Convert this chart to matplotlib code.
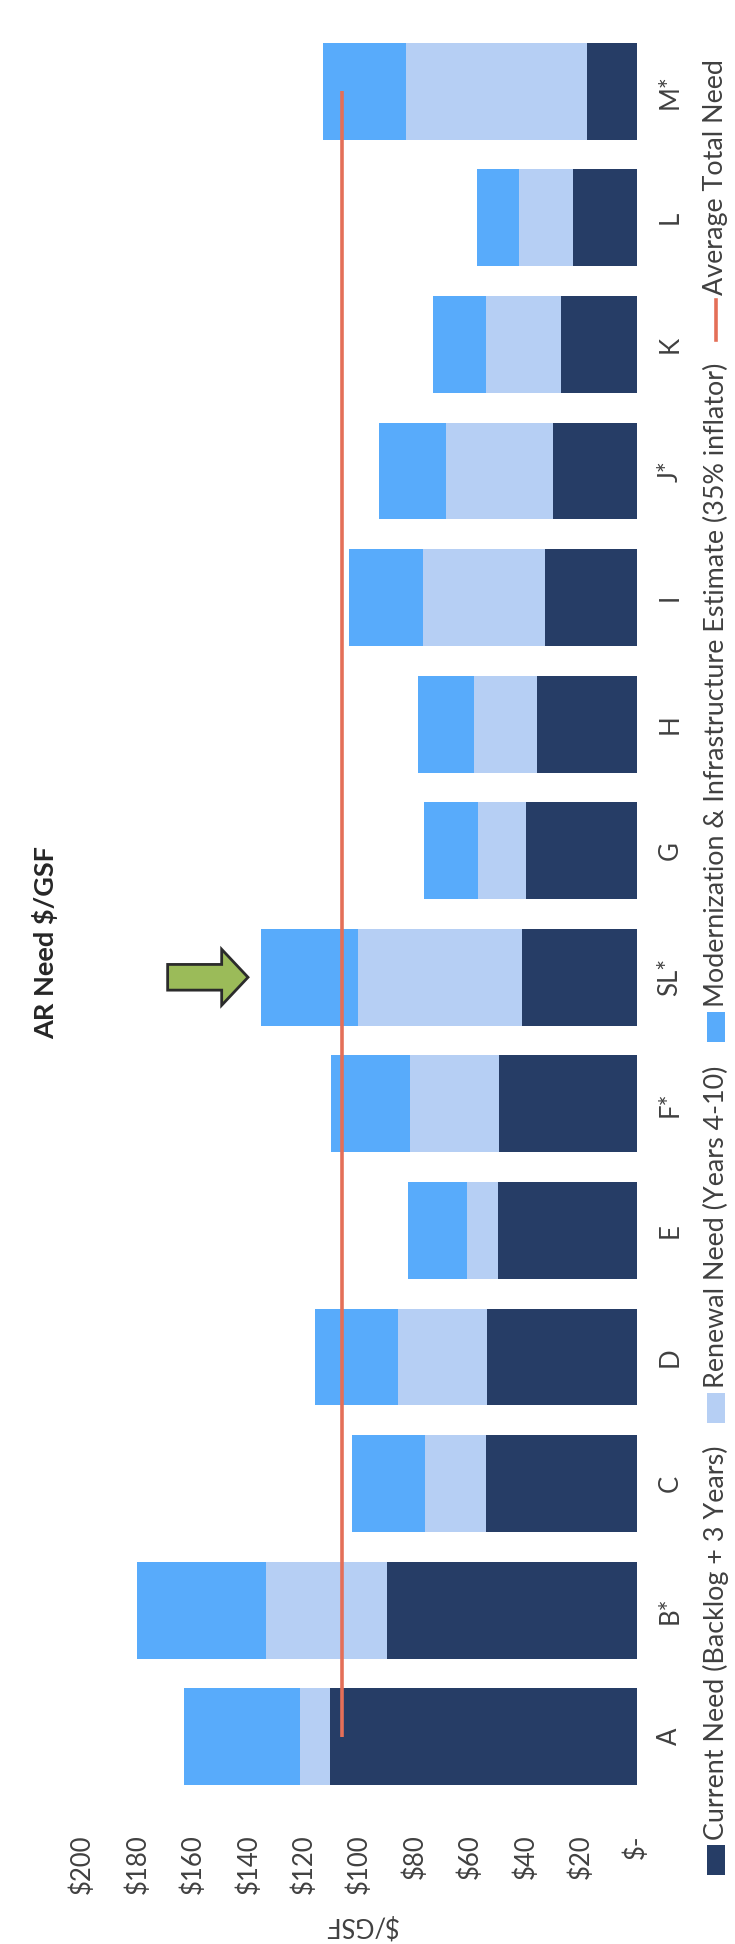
import matplotlib
matplotlib.use("Agg")
import matplotlib.pyplot as plt
import numpy as np
from matplotlib.patches import Rectangle, Polygon
from matplotlib.lines import Line2D

# ---------------- data ----------------
categories = ["A", "B*", "C", "D", "E", "F*", "SL*", "G", "H", "I", "J*", "K", "L", "M*"]
current_need = [110.6, 89.9, 54.3, 53.8, 49.9, 49.5, 41.4, 39.9, 36.0, 33.0, 30.0, 27.2, 23.0, 17.8]
renewal_need = [10.8, 43.8, 22.0, 32.2, 11.4, 32.2, 59.0, 17.2, 22.5, 43.9, 38.9, 27.1, 19.3, 65.5]
modernization = [41.9, 46.5, 26.5, 30.0, 21.3, 28.7, 35.1, 19.6, 20.2, 26.7, 24.0, 19.0, 15.4, 29.9]
value_ticks = [0, 20, 40, 60, 80, 100, 120, 140, 160, 180, 200]
value_tick_labels = ["$-", "$20", "$40", "$60", "$80", "$100", "$120", "$140", "$160", "$180", "$200"]
series_names = ["Current Need (Backlog + 3 Years)",
                "Renewal Need (Years 4-10)",
                "Modernization & Infrastructure Estimate (35% inflator)",
                "Average Total Need"]
highlight = "SL*"
title = "AR Need $/GSF"
axis_label = "$/GSF"

# ---------------- style ----------------
NAVY = "#263d66"
LIGHT = "#b6cff4"
MED = "#58abfb"
RED = "#e46f58"
GREEN = "#9bbb59"
TEXT = "#404040"

plt.rcParams['font.family'] = ['Lato', 'DejaVu Sans']

W, H = 735, 1944
fig = plt.figure(figsize=(W / 100, H / 100), dpi=100)
fig.patch.set_facecolor("white")


def fx(px):
    return px / W


def fy(py):
    return 1 - py / H


ax_left, ax_right, ax_top, ax_bottom = 82.3, 636.5, 28, 1800
ax = fig.add_axes([fx(ax_left), fy(ax_bottom), (ax_right - ax_left) / W, (ax_bottom - ax_top) / H])

cur = np.array(current_need)
ren = np.array(renewal_need)
mod = np.array(modernization)
pos = np.arange(len(categories))
bh = 0.766

ax.barh(pos, cur, height=bh, color=NAVY, zorder=2)
ax.barh(pos, ren, left=cur, height=bh, color=LIGHT, zorder=2)
ax.barh(pos, mod, left=cur + ren, height=bh, color=MED, zorder=2)

totals = cur + ren + mod
avg = totals.mean()
ax.plot(np.full(len(pos), avg), pos, color=RED, lw=2.6, solid_capstyle='butt', zorder=5)

ax.set_xlim(200, 0)
ax.set_ylim(-0.5, len(categories) - 0.5)
for s in ax.spines.values():
    s.set_visible(False)

ax.set_xticks(value_ticks)
ax.set_xticklabels(value_tick_labels, rotation=90, ha='center', va='top', fontsize=18.5, color=TEXT)
ax.tick_params(axis='x', length=0, pad=25)

ax.yaxis.tick_right()
ax.set_yticks(pos)
ax.set_yticklabels(categories, rotation=90, ha='center', va='center', fontsize=18.5, color=TEXT)
ax.tick_params(axis='y', length=0, pad=24)

# highlight arrow pointing at the highlighted bar
i = categories.index(highlight)
tip = totals[i] + 4.7
head_base = tip + 9.5
tail = tip + 29
b, hh = 0.1015, 0.221
arrow_pts = [(tail, i - b), (head_base, i - b), (head_base, i - hh), (tip, i),
             (head_base, i + hh), (head_base, i + b), (tail, i + b)]
ax.add_patch(Polygon(arrow_pts, closed=True, facecolor=GREEN, edgecolor="#2b2b2b",
                     lw=2, zorder=6, clip_on=False, joinstyle='miter'))

# title and axis label
fig.text(fx(45), fy(943), title, rotation=90, ha='center', va='center',
         fontsize=19.5, fontweight='bold', color='#262626')
fig.text(fx(361), fy(1925), axis_label, rotation=180, ha='center', va='center',
         fontsize=18.5, color=TEXT)

# ---------------- manual rotated legend ----------------
leg_x = 716
key_w = 18
key_lens = [30, 30, 30, 40]
key_colors = [NAVY, LIGHT, MED, RED]
gap_kt = 5
gap_items = 23

texts = [fig.text(fx(leg_x), 0.5, name, rotation=90, ha='center', va='bottom',
                  fontsize=19.4, color=TEXT) for name in series_names]
fig.canvas.draw()
renderer = fig.canvas.get_renderer()
lens = [t.get_window_extent(renderer).height for t in texts]
total_len = sum(key_lens) + sum(lens) + 4 * gap_kt + 3 * gap_items
cursor = 967 + total_len / 2
for k, t in enumerate(texts):
    kl = key_lens[k]
    if k < 3:
        fig.patches.append(Rectangle((fx(leg_x - key_w / 2), fy(cursor)), key_w / W, kl / H,
                                     transform=fig.transFigure, facecolor=key_colors[k],
                                     edgecolor='none'))
    else:
        fig.lines.append(Line2D([fx(leg_x), fx(leg_x)], [fy(cursor), fy(cursor - kl)],
                                transform=fig.transFigure, color=RED, lw=2.6))
    cursor -= kl + gap_kt
    t.set_position((fx(leg_x), fy(cursor)))
    cursor -= lens[k] + gap_items

fig.savefig("out.png", dpi=100, facecolor="white")
